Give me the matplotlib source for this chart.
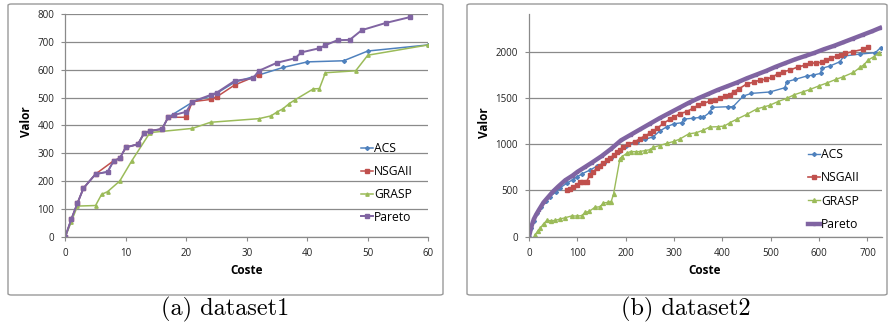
import matplotlib.pyplot as plt
from matplotlib.patches import FancyBboxPatch

# ---- dataset1 (left) ----
pareto1_x = [0, 1, 2, 3, 5, 7, 8, 9, 10, 12, 13, 14, 16, 17, 18, 20, 21, 24, 25, 28, 31, 32,
             35, 38, 39, 42, 43, 45, 47, 49, 53, 57]
pareto1_y = [0, 63, 120, 174, 225, 233, 273, 281, 321, 332, 371, 380, 387, 429, 437, 449, 485,
             509, 517, 560, 569, 596, 625, 641, 662, 677, 688, 706, 707, 742, 768, 789]
nsga1_x = [0, 1, 2, 3, 5, 8, 9, 10, 12, 13, 14, 16, 17, 20, 21, 24, 25, 28, 32]
nsga1_y = [0, 63, 120, 174, 225, 273, 281, 321, 332, 371, 380, 387, 429, 429, 485, 493, 502, 545, 581]
acs1_x = [0, 1, 2, 3, 5, 7, 8, 9, 10, 12, 13, 14, 16, 17, 21, 24, 25, 28, 32, 36, 40, 46, 50, 60]
acs1_y = [0, 63, 120, 174, 225, 233, 273, 281, 321, 332, 371, 380, 387, 429, 483, 506, 515, 555,
          581, 608, 628, 632, 667, 689]
grasp1_x = [0, 1, 2, 5, 6, 7, 9, 11, 14, 21, 24, 32, 34, 35, 36, 37, 38, 41, 42, 43, 48, 50, 60]
grasp1_y = [0, 54, 110, 112, 152, 162, 200, 273, 374, 389, 411, 424, 434, 448, 460, 478, 492, 531,
            532, 589, 596, 652, 689]

# ---- dataset2 (right) ----
pareto2_x = [0, 5, 10, 15, 20, 30, 40, 50, 60, 75, 90, 100, 115, 130, 150, 170, 190, 210, 230,
             250, 270, 290, 310, 330, 350, 370, 390, 410, 430, 450, 470, 490, 510, 530, 550, 570,
             590, 610, 630, 650, 670, 690, 710, 726]
pareto2_y = [0, 110, 190, 240, 285, 370, 430, 490, 540, 610, 660, 700, 750, 800, 870, 950, 1040,
             1100, 1160, 1220, 1280, 1335, 1390, 1445, 1495, 1540, 1585, 1625, 1665, 1710, 1750,
             1790, 1835, 1875, 1915, 1950, 1985, 2025, 2060, 2100, 2140, 2180, 2220, 2255]
acs2_x = [0, 5, 10, 17, 25, 35, 43, 55, 65, 78, 90, 100, 110, 126, 140, 155, 170, 188, 200, 223,
          240, 257, 270, 285, 300, 316, 320, 340, 354, 360, 374, 379, 412, 422, 443, 460, 498, 529,
          533, 551, 574, 588, 603, 605, 622, 643, 651, 685, 716, 727]
acs2_y = [0, 90, 170, 253, 320, 390, 432, 480, 530, 577, 615, 649, 680, 720, 760, 800, 850, 930,
          975, 1026, 1050, 1080, 1140, 1188, 1220, 1231, 1270, 1280, 1289, 1289, 1343, 1397, 1404,
          1404, 1519, 1548, 1563, 1609, 1674, 1700, 1735, 1746, 1764, 1818, 1843, 1890, 1951, 1973,
          1987, 2041]
nsga2_x = [78, 85, 92, 100, 105, 112, 119, 126, 133, 140, 147, 154, 161, 168, 175, 182, 188, 195,
           205, 219, 230, 240, 250, 257, 265, 278, 292, 300, 312, 326, 340, 350, 360, 375, 385, 395,
           405, 416, 423, 435, 450, 465, 478, 490, 502, 515, 526, 540, 557, 570, 581, 593, 605, 615,
           624, 636, 645, 654, 670, 691, 702]
nsga2_y = [504, 520, 540, 560, 594, 590, 594, 666, 700, 738, 760, 792, 830, 850, 882, 910, 940,
           972, 1000, 1026, 1060, 1090, 1117, 1140, 1170, 1225, 1270, 1290, 1330, 1350, 1390, 1420,
           1440, 1465, 1480, 1494, 1515, 1530, 1566, 1600, 1649, 1670, 1692, 1700, 1721, 1760, 1782,
           1800, 1836, 1850, 1872, 1878, 1883, 1910, 1926, 1951, 1960, 1980, 2000, 2024, 2049]
grasp2_x = [12, 18, 23, 30, 37, 45, 54, 64, 75, 88, 100, 109, 116, 125, 136, 147, 154, 164, 170,
            175, 188, 192, 202, 210, 222, 229, 240, 250, 257, 270, 285, 300, 312, 330, 346, 360,
            374, 390, 404, 415, 430, 450, 471, 485, 498, 515, 533, 547, 567, 581, 600, 616, 635,
            650, 671, 685, 692, 702, 713, 723]
grasp2_y = [18, 60, 90, 140, 175, 173, 175, 191, 205, 224, 224, 227, 262, 275, 317, 324, 365, 371,
            380, 465, 840, 864, 900, 920, 918, 920, 930, 940, 965, 985, 1008, 1030, 1055, 1110,
            1123, 1150, 1185, 1188, 1195, 1230, 1270, 1320, 1380, 1400, 1420, 1460, 1494, 1530,
            1566, 1590, 1630, 1660, 1700, 1728, 1775, 1830, 1855, 1910, 1944, 1985]

labels = ['ACS', 'NSGAII', 'GRASP', 'Pareto']
colors = ['#4F81BD', '#C0504D', '#9BBB59', '#8064A2']

plt.rcParams['font.family'] = ['Open Sans', 'DejaVu Sans']

W, H = 891, 326
fig = plt.figure(figsize=(W / 100, H / 100), dpi=100)


def fx(px):
    return px / W


def fy(py):
    return 1 - py / H


# chart frames
for x0, x1 in [(8, 443), (467, 887)]:
    fig.patches.append(FancyBboxPatch((fx(x0), fy(295)), fx(x1 - x0), (295 - 4) / H,
                                      boxstyle='round,pad=0,rounding_size=0.004',
                                      transform=fig.transFigure, fc='white', ec='#9a9a9a',
                                      lw=1, zorder=-5))

ax1 = fig.add_axes([fx(65.3), fy(236.7), fx(363), (236.7 - 14) / H])
ax2 = fig.add_axes([fx(529), fy(236.7), fx(353), (236.7 - 14.5) / H])

ax1.plot(acs1_x, acs1_y, color=colors[0], lw=1.1, marker='D', ms=2.0, label=labels[0])
ax1.plot(nsga1_x, nsga1_y, color=colors[1], lw=1.1, marker='s', ms=2.4, label=labels[1])
ax1.plot(grasp1_x, grasp1_y, color=colors[2], lw=1.1, marker='^', ms=2.4, label=labels[2])
ax1.plot(pareto1_x, pareto1_y, color=colors[3], lw=1.4, marker='s', ms=2.4, label=labels[3])

ax2.plot(acs2_x, acs2_y, color=colors[0], lw=1.0, marker='D', ms=2.0, label=labels[0])
ax2.plot(nsga2_x, nsga2_y, color=colors[1], lw=1.2, marker='s', ms=3.2, label=labels[1])
ax2.plot(grasp2_x, grasp2_y, color=colors[2], lw=1.0, marker='^', ms=2.8, label=labels[2])
ax2.plot(pareto2_x, pareto2_y, color=colors[3], lw=3.2, marker='s', ms=2.0, label=labels[3])

ax1.set_xlim(0, 60)
ax1.set_ylim(0, 800)
ax1.set_xticks(range(0, 61, 10))
ax1.set_yticks(range(0, 801, 100))
ax2.set_xlim(0, 730)
ax2.set_ylim(0, 2400)
ax2.set_xticks(range(0, 701, 100))
ax2.set_yticks(range(0, 2001, 500))

for ax in (ax1, ax2):
    ax.patch.set_alpha(0)
    ax.grid(axis='y', color='#8a8a8a', lw=0.9)
    ax.set_axisbelow(True)
    for s in ('top', 'right'):
        ax.spines[s].set_visible(False)
    for s in ('left', 'bottom'):
        ax.spines[s].set_color('#8a8a8a')
        ax.spines[s].set_linewidth(0.9)
    ax.tick_params(axis='both', colors='#8a8a8a', labelcolor='#222222', labelsize=7,
                   length=3, width=0.8)
    ax.tick_params(axis='y', pad=5)
    ax.tick_params(axis='x', pad=5)

fig.text(fx(246.8), fy(270), 'Coste', ha='center', va='center', fontsize=8.5, weight='bold')
fig.text(fx(705), fy(270), 'Coste', ha='center', va='center', fontsize=8.5, weight='bold')
fig.text(fx(26.7), fy(122), 'Valor', ha='center', va='center', fontsize=8.5, weight='bold',
         rotation=90)
fig.text(fx(485), fy(123), 'Valor', ha='center', va='center', fontsize=8.5, weight='bold',
         rotation=90)

ax1.legend(loc='upper left', bbox_to_anchor=(fx(361), fy(142)), bbox_transform=fig.transFigure,
           frameon=False, fontsize=8.7, handlelength=1.0, handletextpad=0.1,
           labelspacing=0.82, borderpad=0, borderaxespad=0)
ax2.legend(loc='upper left', bbox_to_anchor=(fx(808), fy(148)), bbox_transform=fig.transFigure,
           frameon=False, fontsize=8.7, handlelength=1.0, handletextpad=0.1,
           labelspacing=0.85, borderpad=0, borderaxespad=0)

fig.text(fx(225), fy(309), '(a) dataset1', ha='center', va='center', fontsize=17.5,
         family='cmr10')
fig.text(fx(686), fy(309), '(b) dataset2', ha='center', va='center', fontsize=17.5,
         family='cmr10')

fig.savefig('out.png', dpi=100)
